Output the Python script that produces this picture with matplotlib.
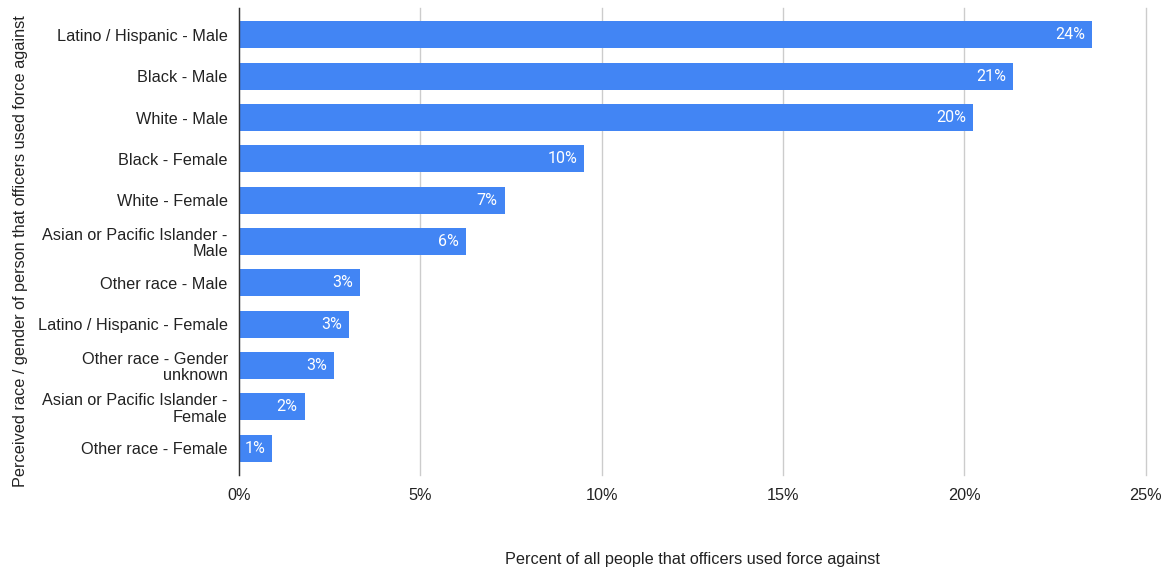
import matplotlib.pyplot as plt
import numpy as np

plt.rcParams['font.family'] = ['Liberation Sans', 'DejaVu Sans']

# Share of all people that officers used force against, by perceived race / gender
groups = [
    "Latino / Hispanic - Male",
    "Black - Male",
    "White - Male",
    "Black - Female",
    "White - Female",
    "Asian or Pacific Islander -\nMale",
    "Other race - Male",
    "Latino / Hispanic - Female",
    "Other race - Gender\nunknown",
    "Asian or Pacific Islander -\nFemale",
    "Other race - Female",
]
percents = [23.52, 21.35, 20.23, 9.52, 7.33, 6.26, 3.34, 3.04, 2.63, 1.81, 0.92]
xticks = [0, 5, 10, 15, 20, 25]

bar_color = "#4285F4"
text_color = "#222222"

fig = plt.figure(figsize=(11.68, 5.71), dpi=100)
ax = fig.add_axes([0.2046, 0.168, 0.7764, 0.818])

y = np.arange(len(groups))
ax.barh(y, percents, height=0.65, color=bar_color, zorder=3)

for yi, v in zip(y, percents):
    ax.annotate(f"{v:.0f}%", xy=(v, yi), xytext=(-7, 0), textcoords="offset pixels",
                ha="right", va="center", color="white", fontsize=11.5,
                family=["Roboto", "DejaVu Sans"], zorder=4)

ax.set_ylim(len(groups) - 0.35, -0.65)
ax.set_xlim(0, 25)
ax.set_xticks(xticks)
ax.set_xticklabels([f"{t}%" for t in xticks], fontsize=11.7, color=text_color)
ax.set_yticks(y)
ax.set_yticklabels(groups, fontsize=11.7, color=text_color, linespacing=1.1)
ax.tick_params(axis="both", length=0)
ax.tick_params(axis="y", pad=8)
ax.tick_params(axis="x", pad=9)

ax.grid(axis="x", color="#cccccc", linewidth=1, zorder=0)
for line in ax.get_xgridlines():
    line.set_clip_on(False)
for side in ["top", "right", "bottom"]:
    ax.spines[side].set_visible(False)
ax.spines["left"].set_color("#333333")
ax.spines["left"].set_linewidth(1)
ax.spines["left"].set_zorder(5)

ax.set_xlabel("Percent of all people that officers used force against",
              fontsize=11.7, color=text_color)
ax.xaxis.set_label_coords(0.5, -0.165)
ax.set_ylabel("Perceived race / gender of person that officers used force against",
              fontsize=11.7, color=text_color)
ax.yaxis.set_label_coords(-0.233, 0.48)

fig.savefig("out.png", dpi=100)
